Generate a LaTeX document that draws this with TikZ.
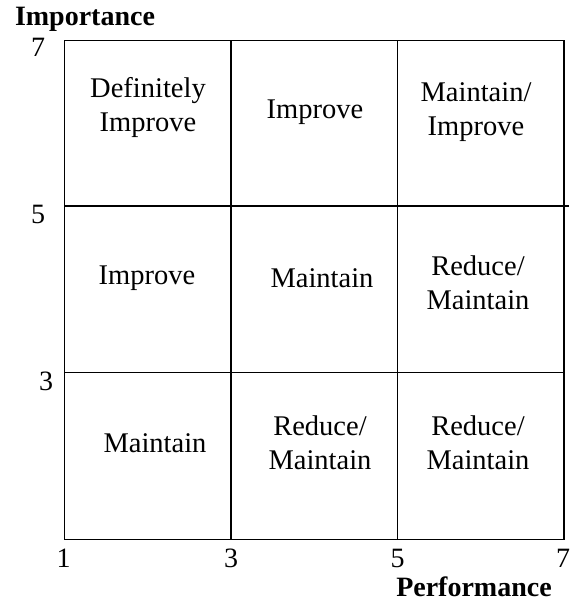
\documentclass[tikz,border=0pt]{standalone}
\usepackage{fontspec}
\setmainfont{Liberation Serif}
\begin{document}
\begin{tikzpicture}[x=1pt,y=-1pt,
  grid/.style={line width=1.5pt, line cap=rect},
  celltext/.style={align=center, font=\fontsize{28.5}{34}\selectfont, inner sep=0pt},
  ticklab/.style={font=\fontsize{28}{30}\selectfont, inner sep=0pt},
  axlab/.style={font=\bfseries\fontsize{28}{30}\selectfont, inner sep=0pt}]
\useasboundingbox (0,0) rectangle (570,603);
% grid
\draw[grid] (64.5,40.5) rectangle (564,539.5);
\draw[grid] (231,40.5) -- (231,539.5);
\draw[grid] (397.5,40.5) -- (397.5,539.5);
\draw[grid] (64.5,206) -- (568,206);
\draw[grid] (64.5,372.5) -- (564,372.5);
% cell texts
\node[celltext] (c11) at (148,107) {Definitely\\Improve};
\node[celltext] (c12) at (315,112) {Improve};
\node[celltext] (c13) at (476,112) {Maintain/\\Improve};
\node[celltext] (c21) at (147,278) {Improve};
\node[celltext] (c22) at (322,278) {Maintain};
\node[celltext] (c23) at (478,283) {Reduce/\\Maintain};
\node[celltext] (c31) at (155,443) {Maintain};
\node[celltext] (c32) at (320,443) {Reduce/\\Maintain};
\node[celltext] (c33) at (478,443) {Reduce/\\Maintain};
% axis labels
\node[axlab] (ylab) at (85,19) {Importance};
\node[ticklab] (y7) at (38,47) {7};
\node[ticklab] (y5) at (38,214) {5};
\node[ticklab] (y3) at (46,381) {3};
\node[ticklab] (x1) at (63.5,558) {1};
\node[ticklab] (x3) at (231,558) {3};
\node[ticklab] (x5) at (397.5,558) {5};
\node[ticklab] (x7) at (563,558) {7};
\node[axlab] (xlab) at (474,587) {Performance};
\end{tikzpicture}
\end{document}
